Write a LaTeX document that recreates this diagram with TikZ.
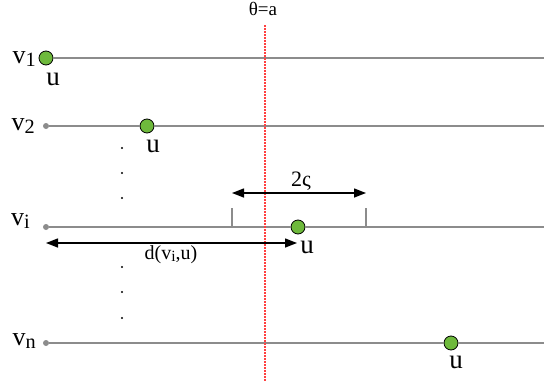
\documentclass[tikz,border=0pt]{standalone}
\usepackage{fontspec}
\setmainfont{Liberation Serif}
\usetikzlibrary{arrows.meta}
\colorlet{linegray}{black!45}
\definecolor{ugreen}{RGB}{110,185,60}
\newcommand{\lowidx}[1]{\raisebox{-0.3ex}{\scalebox{0.78}{#1}}}
\tikzset{
  level/.style = {draw=linegray, line width=1.4pt},
  vert/.style = {circle, fill=linegray, inner sep=0pt, minimum size=6pt},
  unode/.style = {circle, draw=black, fill=ugreen, line width=0.8pt, inner sep=0pt, minimum size=14pt},
  vlabel/.style = {font=\fontsize{26}{26}\selectfont, anchor=base east, inner sep=0pt},
  ulabel/.style = {font=\fontsize{27}{27}\selectfont, anchor=base, inner sep=0pt},
  dim/.style = {line width=1.4pt, {Triangle[length=12pt,width=9pt]}-{Triangle[length=12pt,width=9pt]}}
}
\begin{document}
\begin{tikzpicture}[x=1pt,y=-1pt]
  \useasboundingbox (0,0) rectangle (544,386);
  % threshold
  \coordinate (top) at (265,25);
  \coordinate (bot) at (265,381);
  \node[font=\fontsize{19}{19}\selectfont, anchor=base, inner sep=0pt] (theta) at (263,15) {θ=a};
  % levels
  \coordinate (e1) at (544,58);
  \coordinate (e2) at (544,126);
  \coordinate (ei) at (544,227);
  \coordinate (en) at (544,343);
  \node[vert] (s2) at (46,126) {};
  \node[vert] (si) at (46,227) {};
  \node[vert] (sn) at (46,343) {};
  \node[unode] (u1) at (46,58) {};
  \node[unode] (u2) at (147,126) {};
  \node[unode] (ui) at (298,227) {};
  \node[unode] (un) at (451,343) {};
  \draw[level] (u1) -- (e1);
  \draw[level] (s2) -- (u2) -- (e2);
  \draw[level] (si) -- (ui) -- (ei);
  \draw[level] (sn) -- (un) -- (en);
  \draw[red!75, line width=1.3pt, dash pattern=on 1.5pt off 1.5pt] (top) -- (bot);
  % labels
  \node[vlabel] (lv1) at (36,63) {v\lowidx{1}};
  \node[vlabel] (lv2) at (35,130) {v\lowidx{2}};
  \node[vlabel] (lvi) at (30,225) {v\lowidx{i}};
  \node[vlabel] (lvn) at (36,345) {v\lowidx{n}};
  \node[ulabel] (lu1) at (53,85) {u};
  \node[ulabel] (lu2) at (153,152) {u};
  \node[ulabel] (lun) at (456,368) {u};
  % dots
  \foreach \y in {148,173,198,267,292,318}
    \fill (122,\y) circle (1.2pt);
  % window
  \coordinate (t1) at (232,208);
  \coordinate (t2) at (366,208);
  \coordinate (b1) at (232,227);
  \coordinate (b2) at (366,227);
  \draw[level] (t1) -- (b1);
  \draw[level] (t2) -- (b2);
  \coordinate (w1) at (232,193);
  \coordinate (w2) at (366,193);
  \draw[dim] (w1) -- (w2);
  \node[font=\fontsize{22}{22}\selectfont, anchor=base, inner sep=0pt] (lw) at (301,186) {2ς};
  % distance
  \coordinate (d1) at (46,243);
  \coordinate (d2) at (297,243);
  \draw[dim] (d1) -- (d2);
  \node[font=\fontsize{20}{20}\selectfont, anchor=base, inner sep=0pt] (ld) at (171,259) {d(v\lowidx{i},u)};
  \node[ulabel] (lui) at (307,253) {u};
\end{tikzpicture}
\end{document}
